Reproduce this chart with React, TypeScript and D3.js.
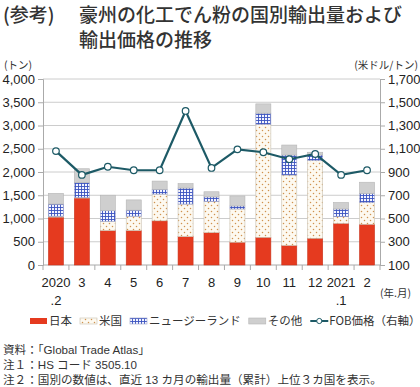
import React, { useEffect, useRef } from 'react';
import * as d3 from 'd3';

// months on the x axis (two-line labels)
const months = ['2020', '3', '4', '5', '6', '7', '8', '9', '10', '11', '12', '2021', '2'];
const monthsSub = ['.2', '', '', '', '', '', '', '', '', '', '', '.1', ''];

// export volume by country (tons)
const japan = [1030, 1440, 740, 740, 950, 610, 695, 490, 595, 420, 575, 895, 875];
const usa = [20, 10, 200, 310, 575, 700, 675, 715, 2430, 1515, 1670, 145, 465];
const newZealand = [260, 320, 230, 130, 100, 345, 95, 65, 240, 430, 120, 165, 200];
const others = [230, 300, 330, 220, 180, 95, 110, 215, 200, 215, 60, 140, 240];

// FOB price (USD/ton), right axis
const fob = [1080, 875, 945, 915, 915, 1425, 935, 1095, 1070, 1010, 1055, 875, 915];

const leftTicks = [0, 500, 1000, 1500, 2000, 2500, 3000, 3500, 4000];
const rightTicks = [100, 300, 500, 700, 900, 1100, 1300, 1500, 1700];

const seriesNames = ['日本', '米国', 'ニュージーランド', 'その他'];

const W = 420, H = 387;
const margin = { top: 79, right: 40, bottom: 122, left: 43 };
const FONT = '"Liberation Sans", "Noto Sans CJK JP", sans-serif';
const JP = '"Noto Sans CJK JP", sans-serif';
const LINE_COLOR = '#1d5a66';

export default function App() {
  const ref = useRef<SVGSVGElement>(null);

  useEffect(() => {
    document.body.style.margin = '0';
    const svg = d3.select(ref.current);
    svg.selectAll('*').remove();

    const x0 = margin.left, x1 = W - margin.right;
    const y0 = H - margin.bottom, y1 = margin.top;

    const x = d3.scaleBand<number>().domain(d3.range(months.length)).range([x0, x1])
      .paddingInner(0.42).paddingOuter(0.21);
    const y = d3.scaleLinear().domain([0, 4000]).range([y0, y1]);
    const yr = d3.scaleLinear().domain([100, 1700]).range([y0, y1]);

    // patterns
    const defs = svg.append('defs');
    const pUs = defs.append('pattern').attr('id', 'pUs').attr('patternUnits', 'userSpaceOnUse')
      .attr('width', 6).attr('height', 6);
    pUs.append('rect').attr('width', 6).attr('height', 6).attr('fill', '#fdf9f0');
    pUs.append('circle').attr('cx', 1.5).attr('cy', 1.5).attr('r', 0.75).attr('fill', '#d0924e');
    pUs.append('circle').attr('cx', 4.5).attr('cy', 4.5).attr('r', 0.75).attr('fill', '#d0924e');

    const pNz = defs.append('pattern').attr('id', 'pNz').attr('patternUnits', 'userSpaceOnUse')
      .attr('width', 3).attr('height', 3);
    pNz.append('rect').attr('width', 3).attr('height', 3).attr('fill', '#f4f5ff');
    pNz.append('path').attr('d', 'M0,0.5H3M0.5,0V3').attr('stroke', '#3a52c0').attr('stroke-width', 0.9);

    const fills = ['#e53a1f', 'url(#pUs)', 'url(#pNz)', '#cfcfcf'];
    const strokes = ['#c9351e', '#c8c0b0', '#9aa0c8', '#b5b5b5'];

    // title
    const title = svg.append('g').attr('font-family', JP).attr('fill', '#333')
      .attr('font-size', 19).attr('font-weight', 500);
    title.append('text').attr('x', 3).attr('y', 22).text('(参考)');
    title.append('text').attr('x', 79).attr('y', 22).text('豪州の化工でん粉の国別輸出量および');
    title.append('text').attr('x', 79).attr('y', 47).text('輸出価格の推移');

    // unit labels
    svg.append('text').attr('x', 4).attr('y', 69).attr('font-family', JP).attr('font-size', 10.5)
      .attr('fill', '#333').text('(トン)');
    svg.append('text').attr('x', 418).attr('y', 69).attr('text-anchor', 'end').attr('font-family', JP)
      .attr('font-size', 10.5).attr('fill', '#333').text('(米ドル/トン)');

    // grid
    svg.append('g').selectAll('line').data(leftTicks.slice(1)).join('line')
      .attr('x1', x0).attr('x2', x1).attr('y1', d => y(d)).attr('y2', d => y(d))
      .attr('stroke', '#cccccc').attr('stroke-width', 1);

    // left axis
    const gl = svg.append('g').attr('transform', `translate(${x0},0)`)
      .call(d3.axisLeft(y).tickValues(leftTicks).tickSize(5).tickPadding(3).tickFormat(d3.format(',')));
    gl.select('.domain').attr('stroke', '#aaa');
    gl.selectAll('.tick line').attr('stroke', '#aaa');
    gl.selectAll('text').attr('font-family', FONT).attr('font-size', 13).attr('fill', '#222');

    // right axis
    const gr = svg.append('g').attr('transform', `translate(${x1},0)`)
      .call(d3.axisRight(yr).tickValues(rightTicks).tickSize(5).tickPadding(3).tickFormat(d3.format(',')));
    gr.select('.domain').attr('stroke', '#aaa');
    gr.selectAll('.tick line').attr('stroke', '#aaa');
    gr.selectAll('text').attr('font-family', FONT).attr('font-size', 13).attr('fill', '#222');

    // bottom axis
    svg.append('line').attr('x1', x0).attr('x2', x1).attr('y1', y0).attr('y2', y0).attr('stroke', '#aaa');
    const step = x.step();
    svg.append('g').selectAll('line').data(d3.range(months.length + 1)).join('line')
      .attr('x1', i => x0 + i * step).attr('x2', i => x0 + i * step)
      .attr('y1', y0).attr('y2', y0 + 5).attr('stroke', '#aaa');

    const xl = svg.append('g').attr('font-family', FONT).attr('font-size', 13).attr('fill', '#222')
      .attr('text-anchor', 'middle');
    months.forEach((m, i) => {
      const cx = x(i)! + x.bandwidth() / 2;
      xl.append('text').attr('x', cx).attr('y', y0 + 22).text(m);
      if (monthsSub[i]) xl.append('text').attr('x', cx).attr('y', y0 + 40).text(monthsSub[i]);
    });
    svg.append('text').attr('x', 411).attr('y', 297).attr('text-anchor', 'end').attr('font-family', JP)
      .attr('font-size', 10.5).attr('fill', '#333').text('(年.月)');

    // stacked bars
    const stackData = months.map((_, i) => ({ i, a: japan[i], b: usa[i], c: newZealand[i], d: others[i] }));
    const stack = d3.stack<any>().keys(['a', 'b', 'c', 'd'])(stackData);
    stack.forEach((layer, k) => {
      svg.append('g').selectAll('rect').data(layer).join('rect')
        .attr('x', d => x(d.data.i)!)
        .attr('width', x.bandwidth())
        .attr('y', d => y(d[1]))
        .attr('height', d => y(d[0]) - y(d[1]))
        .attr('fill', fills[k])
        .attr('stroke', strokes[k]).attr('stroke-width', 0.6);
    });

    // FOB line
    const cxOf = (i: number) => x(i)! + x.bandwidth() / 2;
    const line = d3.line<number>().x((_, i) => cxOf(i)).y(d => yr(d));
    svg.append('path').datum(fob).attr('d', line).attr('fill', 'none')
      .attr('stroke', LINE_COLOR).attr('stroke-width', 2.2);
    svg.append('g').selectAll('circle').data(fob).join('circle')
      .attr('cx', (_, i) => cxOf(i)).attr('cy', d => yr(d)).attr('r', 3.3)
      .attr('fill', '#fff').attr('stroke', LINE_COLOR).attr('stroke-width', 1.2);

    // legend, laid out left to right from measured text widths
    const ly = 321;
    const lg = svg.append('g').attr('font-family', JP).attr('font-size', 11.5).attr('fill', '#333');
    let lx = 30;
    seriesNames.forEach((name, k) => {
      lg.append('rect').attr('x', lx).attr('y', ly - 3).attr('width', 17).attr('height', 6)
        .attr('fill', fills[k]).attr('stroke', k === 0 ? 'none' : strokes[k]).attr('stroke-width', 0.6);
      const t = lg.append('text').attr('x', lx + 19).attr('y', ly + 4).text(name);
      lx += 19 + (t.node() as SVGTextElement).getComputedTextLength() + 8;
    });
    lg.append('line').attr('x1', lx).attr('x2', lx + 18).attr('y1', ly).attr('y2', ly)
      .attr('stroke', LINE_COLOR).attr('stroke-width', 2);
    lg.append('circle').attr('cx', lx + 9).attr('cy', ly).attr('r', 2.6).attr('fill', '#fff')
      .attr('stroke', LINE_COLOR).attr('stroke-width', 1);
    lg.append('text').attr('x', lx + 19).attr('y', ly + 4).text('FOB価格（右軸）');

    // notes
    const notes = ['資料：「Global Trade Atlas」', '注１：HS コード 3505.10',
      '注２：国別の数値は、直近 13 カ月の輸出量（累計）上位３カ国を表示。'];
    const ng = svg.append('g').attr('font-family', FONT).attr('font-size', 11.6).attr('fill', '#333');
    notes.forEach((n, i) => ng.append('text').attr('x', 3).attr('y', 354 + i * 15).text(n));
  }, []);

  return (
    <div style={{ position: 'absolute', left: 0, top: 0 }}>
      <svg ref={ref} width={W} height={H} style={{ display: 'block', background: '#fff' }} />
    </div>
  );
}
